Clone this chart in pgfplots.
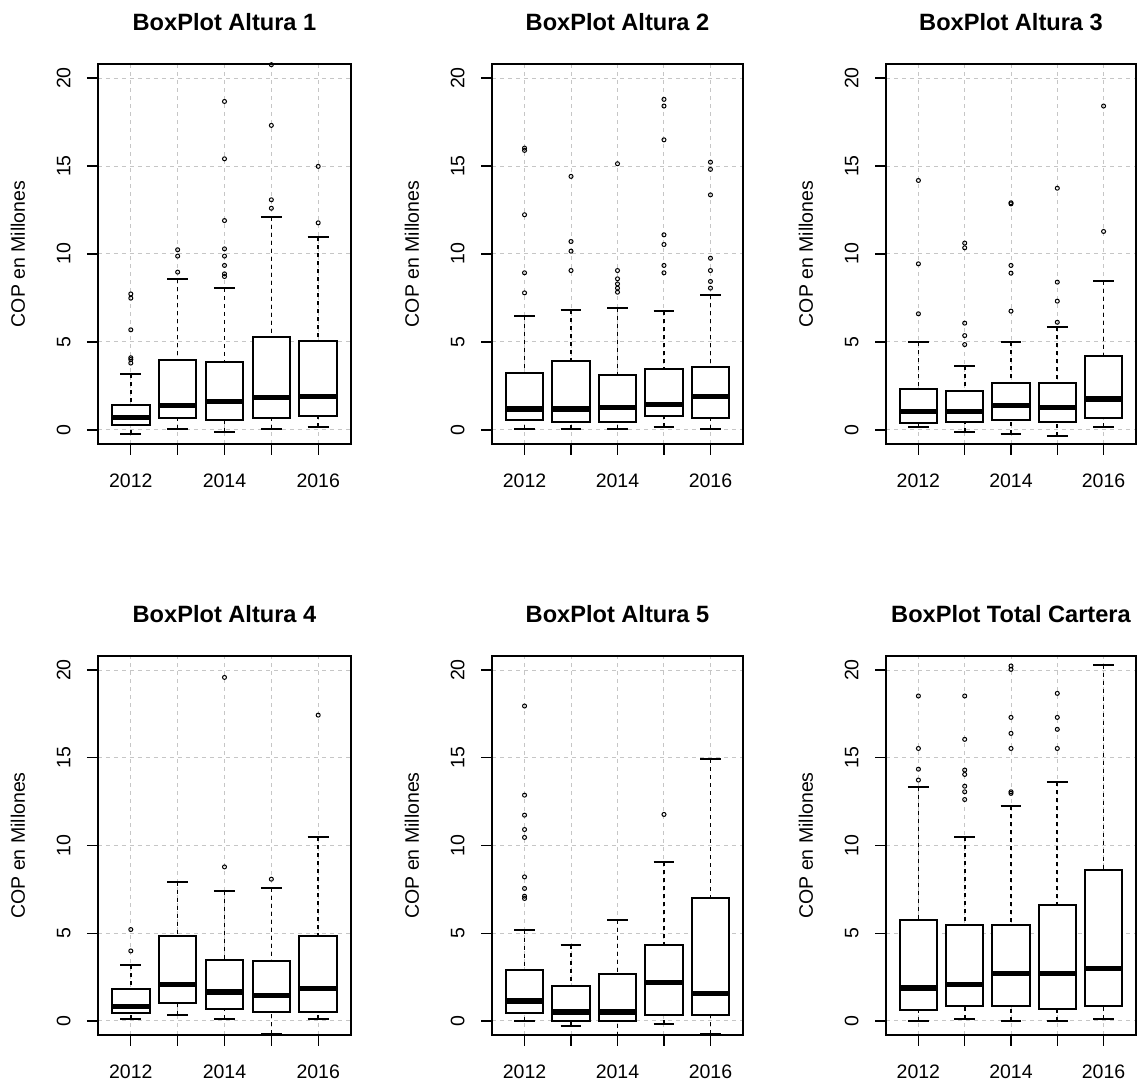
\documentclass[border=0pt]{standalone}
\usepackage{pgfplots}
\pgfplotsset{compat=1.18}
\usepgfplotslibrary{statistics}
\usepackage{fontspec}
\setmainfont{Liberation Sans}
\pgfplotsset{
  bp/.style={
    scale only axis, width=126.5pt, height=190pt,
    xmin=0.3, xmax=5.7, ymin=-0.8, ymax=20.8,
    xtick={1,2,3,4,5}, xticklabels={2012,,2014,,2016},
    ytick={0,5,10,15,20},
    tick pos=left, tick align=outside, major tick length=5.5pt,
    tick style={black, line width=0.6pt},
    axis line style={line width=1pt},
    grid=major, major grid style={gray!45, dash pattern=on 2pt off 2pt, line width=0.5pt},
    /pgf/number format/assume math mode=true,
    tick label style={font=\fontsize{9.75}{11}\selectfont},
    xticklabel style={anchor=north, inner sep=0pt, yshift=-9pt},
    yticklabel style={xshift=-8pt, rotate=90, anchor=south, inner sep=0pt},
    ylabel={COP en Millones},
    every axis y label/.style={at={(axis description cs:0,0.5)}, xshift=-40pt, rotate=90, anchor=center, font=\fontsize{9.75}{11}\selectfont},
    every axis title/.style={at={(axis description cs:0.5,1)}, yshift=16.8pt, anchor=base, font=\bfseries\fontsize{11.8}{14}\selectfont},
    boxplot/draw direction=y,
    boxplot/box extend=0.8,
    boxplot/whisker extend=0.45,
    boxplot/every box/.style={fill=white, line width=1pt},
    boxplot/every median/.style={line width=2.6pt},
    boxplot/draw/lower whisker/.code={%
      \draw[dash pattern=on 2pt off 2pt, line width=0.8pt]
        (boxplot box cs:\pgfplotsboxplotvalue{lower whisker},0.5) --
        (boxplot box cs:\pgfplotsboxplotvalue{lower quartile},0.5);
      \draw[line width=1pt]
        (boxplot whisker cs:\pgfplotsboxplotvalue{lower whisker},0) --
        (boxplot whisker cs:\pgfplotsboxplotvalue{lower whisker},1);
    },
    boxplot/draw/upper whisker/.code={%
      \draw[dash pattern=on 2pt off 2pt, line width=0.8pt]
        (boxplot box cs:\pgfplotsboxplotvalue{upper whisker},0.5) --
        (boxplot box cs:\pgfplotsboxplotvalue{upper quartile},0.5);
      \draw[line width=1pt]
        (boxplot whisker cs:\pgfplotsboxplotvalue{upper whisker},0) --
        (boxplot whisker cs:\pgfplotsboxplotvalue{upper whisker},1);
    },
  },
}
\newcommand\bx[7]{\addplot[black, mark=o, mark size=1pt, mark options={solid, line width=0.5pt},
  boxplot prepared={draw position=#1, lower whisker=#2, lower quartile=#3, median=#4, upper quartile=#5, upper whisker=#6}]
  coordinates {#7};}
\begin{document}
\begin{tikzpicture}
\useasboundingbox (0,0) rectangle (568.5pt,541pt);
% Panel 1
\begin{axis}[bp, at={(49pt,319pt)}, anchor=south west, title={BoxPlot Altura 1}]
\bx{1}{-0.23}{0.27}{0.72}{1.40}{3.17}{(0,3.8)(0,4.0)(0,4.1)(0,5.69)(0,7.49)(0,7.73)}
\bx{2}{0.06}{0.66}{1.38}{3.98}{8.59}{(0,8.97)(0,9.88)(0,10.24)}
\bx{3}{-0.13}{0.57}{1.61}{3.85}{8.08}{(0,8.72)(0,8.87)(0,9.35)(0,9.88)(0,10.29)(0,11.9)(0,15.41)(0,18.67)}
\bx{4}{0.06}{0.66}{1.82}{5.31}{12.1}{(0,12.6)(0,13.08)(0,17.31)(0,20.76)}
\bx{5}{0.19}{0.78}{1.91}{5.08}{10.96}{(0,11.77)(0,14.98)}
\end{axis}
% Panel 2
\begin{axis}[bp, width=125.5pt, at={(246pt,319pt)}, anchor=south west, title={BoxPlot Altura 2}]
\bx{1}{0.06}{0.57}{1.19}{3.24}{6.45}{(0,7.79)(0,8.93)(0,12.23)(0,15.89)(0,16.02)}
\bx{2}{0.06}{0.47}{1.19}{3.89}{6.84}{(0,9.06)(0,10.16)(0,10.71)(0,14.41)}
\bx{3}{0.06}{0.47}{1.29}{3.15}{6.94}{(0,7.83)(0,8.06)(0,8.30)(0,8.59)(0,9.06)(0,15.13)}
\bx{4}{0.19}{0.78}{1.44}{3.47}{6.75}{(0,8.93)(0,9.35)(0,10.54)(0,11.09)(0,16.49)(0,18.41)(0,18.79)}
\bx{5}{0.06}{0.68}{1.91}{3.56}{7.68}{(0,8.06)(0,8.44)(0,9.06)(0,9.76)(0,13.36)(0,14.81)(0,15.22)}
\end{axis}
% Panel 3
\begin{axis}[bp, width=125pt, at={(443pt,319pt)}, anchor=south west, title={BoxPlot Altura 3}]
\bx{1}{0.19}{0.38}{1.06}{2.33}{4.98}{(0,6.6)(0,9.44)(0,14.18)}
\bx{2}{-0.13}{0.47}{1.06}{2.24}{3.66}{(0,4.85)(0,5.36)(0,6.07)(0,10.35)(0,10.62)}
\bx{3}{-0.23}{0.57}{1.38}{2.65}{5.0}{(0,6.75)(0,8.91)(0,9.35)(0,12.85)(0,12.91)}
\bx{4}{-0.36}{0.47}{1.29}{2.65}{5.84}{(0,6.12)(0,7.32)(0,8.40)(0,13.74)}
\bx{5}{0.19}{0.68}{1.76}{4.19}{8.49}{(0,11.28)(0,18.41)}
\end{axis}
% Panel 4
\begin{axis}[bp, height=189.5pt, at={(49pt,23.5pt)}, anchor=south west, title={BoxPlot Altura 4}]
\bx{1}{0.1}{0.48}{0.84}{1.84}{3.17}{(0,3.99)(0,5.21)}
\bx{2}{0.32}{1.03}{2.07}{4.83}{7.93}{}
\bx{3}{0.1}{0.70}{1.65}{3.50}{7.41}{(0,8.78)(0,19.58)}
\bx{4}{-0.72}{0.51}{1.46}{3.40}{7.60}{(0,8.08)}
\bx{5}{0.1}{0.51}{1.84}{4.83}{10.49}{(0,17.43)}
\end{axis}
% Panel 5
\begin{axis}[bp, width=125.5pt, height=189.5pt, at={(246pt,23.5pt)}, anchor=south west, title={BoxPlot Altura 5}]
\bx{1}{0.0}{0.48}{1.14}{2.89}{5.17}{(0,6.98)(0,7.11)(0,7.55)(0,8.21)(0,10.46)(0,10.91)(0,11.73)(0,12.87)(0,17.95)}
\bx{2}{-0.30}{0.0}{0.51}{1.98}{4.32}{}
\bx{3}{-0.85}{0.0}{0.51}{2.66}{5.74}{}
\bx{4}{-0.19}{0.32}{2.19}{4.32}{9.07}{(0,11.77)}
\bx{5}{-0.72}{0.32}{1.56}{6.98}{14.92}{}
\end{axis}
% Panel 6
\begin{axis}[bp, width=125pt, height=189.5pt, at={(443pt,23.5pt)}, anchor=south west, title={BoxPlot Total Cartera}]
\bx{1}{0.0}{0.61}{1.88}{5.78}{13.31}{(0,13.73)(0,14.35)(0,15.53)(0,18.52)}
\bx{2}{0.1}{0.84}{2.07}{5.46}{10.49}{(0,12.62)(0,13.06)(0,13.38)(0,14.05)(0,14.30)(0,16.05)(0,18.52)}
\bx{3}{0.0}{0.84}{2.70}{5.46}{12.24}{(0,12.97)(0,13.06)(0,15.53)(0,16.39)(0,17.30)(0,20.04)(0,20.23)}
\bx{4}{0.0}{0.70}{2.70}{6.60}{13.63}{(0,15.53)(0,16.62)(0,17.30)(0,18.67)}
\bx{5}{0.1}{0.84}{2.98}{8.63}{20.29}{}
\end{axis}
\end{tikzpicture}
\end{document}
